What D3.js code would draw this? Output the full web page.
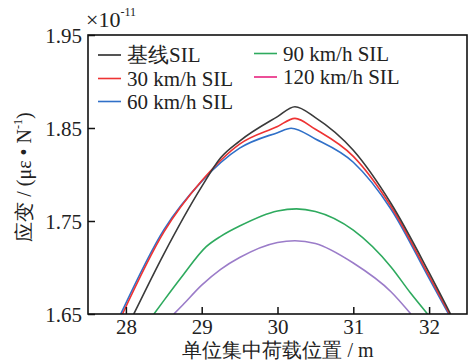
<!DOCTYPE html>
<html>
<head>
<meta charset="utf-8">
<script src="https://cdn.jsdelivr.net/npm/d3@7"></script>
<style>
  body { margin: 0; background: #fff; }
</style>
</head>
<body>
<svg id="chart" width="474" height="360"></svg>
<script>
// ----------- DATA (strain ×1e-11 vs. load position in m) ------------
const baselinePos = [28.104, 28.5, 29.0, 29.25, 29.5, 30.0, 30.23, 30.5, 31.0, 31.5, 32.0, 32.283];
const baselineVal = [1.65, 1.7145, 1.787, 1.818, 1.836, 1.8622, 1.8729, 1.8612, 1.826, 1.7685, 1.6945, 1.65];

const v30Pos = [27.955, 28.5, 29.0, 29.5, 30.0, 30.23, 30.5, 31.0, 31.5, 32.0, 32.27];
const v30Val = [1.65, 1.738, 1.7932, 1.8327, 1.8516, 1.8604, 1.8486, 1.8195, 1.7653, 1.691, 1.65];

const v60Pos = [27.933, 28.5, 29.0, 29.5, 30.0, 30.18, 30.5, 31.0, 31.5, 32.0, 32.257];
const v60Val = [1.65, 1.7404, 1.7926, 1.8283, 1.845, 1.8498, 1.8382, 1.8132, 1.7624, 1.6883, 1.65];

const v90Pos = [28.37, 28.5, 28.75, 29.06, 29.25, 29.5, 30.0, 30.25, 30.5, 31.0, 31.5, 31.75, 31.98];
const v90Val = [1.65, 1.6644, 1.6914, 1.7224, 1.7335, 1.7446, 1.7608, 1.763, 1.7602, 1.7401, 1.7003, 1.6731, 1.65];

const v120Pos = [28.633, 28.75, 29.0, 29.25, 29.5, 30.0, 30.23, 30.5, 31.0, 31.5, 31.76];
const v120Val = [1.65, 1.6597, 1.681, 1.698, 1.7107, 1.7269, 1.7288, 1.7258, 1.7048, 1.6737, 1.65];

const seriesNames = ["基线SIL", "30 km/h SIL", "60 km/h SIL", "90 km/h SIL", "120 km/h SIL"];
const xTicks = [28, 29, 30, 31, 32];
const yTicks = [1.65, 1.75, 1.85, 1.95];

// ----------- SETUP ------------
const margin = { top: 35, right: 7, bottom: 46, left: 88 };
const W = 474, H = 360;
const width = W - margin.left - margin.right;
const height = H - margin.top - margin.bottom;
// single quoted family, CJK glyphs fall back on their own
const FONT = '"Liberation Serif"';

const svg = d3.select("#chart").attr("fill", "#222");
const g = svg.append("g").attr("transform", `translate(${margin.left},${margin.top})`);

const x = d3.scaleLinear().domain([27.5, 32.5]).range([0, width]);
const y = d3.scaleLinear().domain([1.65, 1.95]).range([height, 0]);

const series = [
  { name: seriesNames[0], pos: baselinePos, val: baselineVal, color: "#3a3a3a", legend: "#2a2a2a" },
  { name: seriesNames[1], pos: v30Pos, val: v30Val, color: "#ee3333", legend: "#ee3333" },
  { name: seriesNames[2], pos: v60Pos, val: v60Val, color: "#3070c8", legend: "#3070c8" },
  { name: seriesNames[3], pos: v90Pos, val: v90Val, color: "#2eaa5e", legend: "#2eaa5e" },
  { name: seriesNames[4], pos: v120Pos, val: v120Val, color: "#9b7cc9", legend: "#e8247f" }
];

g.append("clipPath").attr("id", "clip")
  .append("rect").attr("width", width).attr("height", height);

// ----------- LINES ------------
const lines = g.append("g").attr("clip-path", "url(#clip)");
const line = d3.line().x(d => x(d[0])).y(d => y(d[1])).curve(d3.curveMonotoneX);
// lower curves first so the dark baseline ends up on top
[4, 3, 2, 1, 0].forEach(i => {
  const s = series[i];
  const pts = s.pos.map((p, j) => [p, s.val[j]]);
  lines.append("path")
    .attr("d", line(pts))
    .attr("fill", "none")
    .attr("stroke", s.color)
    .attr("stroke-width", 1.6);
});

// ----------- AXES ------------
const xAxis = g.append("g")
  .attr("transform", `translate(0,${height})`)
  .call(d3.axisBottom(x).tickValues(xTicks).tickSizeInner(-7).tickSizeOuter(0).tickPadding(5).tickFormat(d3.format("d")));
const yAxis = g.append("g")
  .call(d3.axisLeft(y).tickValues(yTicks).tickSizeInner(-7).tickSizeOuter(0).tickPadding(6).tickFormat(d3.format(".2f")));

[xAxis, yAxis].forEach(a => {
  a.attr("font-family", FONT).attr("font-size", 21);
  a.select(".domain").remove();
  a.selectAll("line").attr("stroke", "#111").attr("stroke-width", 1.5);
  a.selectAll("text").attr("fill", "#222").attr("font-family", FONT).attr("font-size", 21);
});
yAxis.selectAll("text").attr("dy", "0.35em");
xAxis.selectAll("text").attr("dy", "0.71em");

// frame
g.append("rect")
  .attr("width", width).attr("height", height)
  .attr("fill", "none").attr("stroke", "#111").attr("stroke-width", 1.6);

// exponent label
const expo = svg.append("text").attr("x", 86).attr("y", 27).attr("font-size", 22).attr("font-family", FONT);
expo.append("tspan").text("×10");
expo.append("tspan").attr("font-size", 12).attr("dy", -11).text("-11");

// ----------- LEGEND ------------
const legendCols = [
  { lineX: 98, textX: 127 },
  { lineX: 254, textX: 283 }
];
const legendRows = [55, 78.5, 101.5];
series.forEach((s, i) => {
  const col = legendCols[i < 3 ? 0 : 1];
  const ry = legendRows[i < 3 ? i : i - 3] - (i < 3 ? 0 : 1.5);
  svg.append("line")
    .attr("x1", col.lineX).attr("x2", col.lineX + 23)
    .attr("y1", ry).attr("y2", ry)
    .attr("stroke", s.legend).attr("stroke-width", 1.6);
  svg.append("text")
    .attr("x", col.textX).attr("y", ry).attr("dy", "0.35em")
    .attr("font-size", 21).attr("font-family", FONT).text(s.name);
});

// ----------- AXIS TITLES ------------
svg.append("text")
  .attr("x", 278).attr("y", 357).attr("text-anchor", "middle")
  .attr("font-size", 20).attr("font-family", FONT)
  .text("单位集中荷载位置 / m");

const yTitle = svg.append("text")
  .attr("transform", "translate(31,177) rotate(-90)")
  .attr("text-anchor", "middle").attr("font-size", 20).attr("font-family", FONT);
yTitle.append("tspan").text("应变 / (με • N");
yTitle.append("tspan").attr("font-size", 12).attr("dy", -9).text("-1");
yTitle.append("tspan").attr("dy", 9).text(")");
</script>
</body>
</html>
